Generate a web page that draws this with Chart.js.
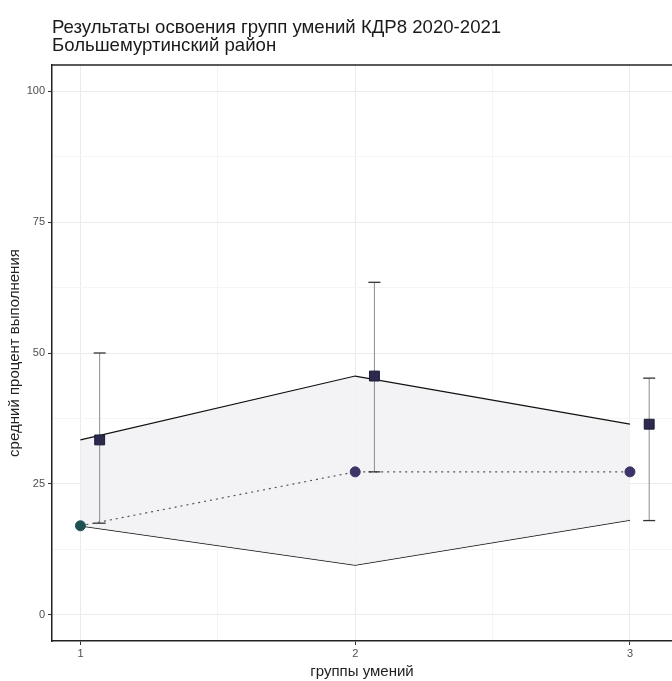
<!DOCTYPE html>
<html>
<head>
<meta charset="utf-8">
<script src="https://cdn.jsdelivr.net/npm/chart.js@4.4.1/dist/chart.umd.min.js"></script>
<style>
  html, body { margin: 0; padding: 0; background: #fff; overflow: hidden; }
  #wrap { width: 672px; height: 681px; position: relative; }
  canvas { display: block; }
</style>
</head>
<body>
<div id="wrap"><canvas id="chart"></canvas></div>
<script>
// chart data
const titleLines = ['Результаты освоения групп умений КДР8 2020-2021', 'Большемуртинский район'];
const groups = [1, 2, 3];
const circleVals = [17.0, 27.3, 27.3];
const squareVals = [33.4, 45.6, 36.4];
const errLow = [17.5, 27.3, 18.0];
const errHigh = [50.0, 63.5, 45.2];
const ribbonUpper = [33.4, 45.6, 36.4];
const ribbonLower = [17.0, 9.5, 18.1];
const yTicks = [0, 12.5, 25, 37.5, 50, 62.5, 75, 87.5, 100];
const xTicks = [1, 1.5, 2, 2.5, 3];
const circleColors = ['#1f5052', '#3d3568', '#3d3568'];

// squares and error bars are dodged a bit to the right
const dodge = 0.07;

const pts = (xs, ys) => xs.map((x, i) => ({ x: x, y: ys[i] }));

// one dataset per error bar: a grey line with short caps at both ends
const errorSets = groups.map((g, i) => ({
  type: 'line',
  data: [{ x: g + dodge, y: errLow[i] }, { x: g + dodge, y: errHigh[i] }],
  borderColor: '#8c8c8c',
  borderWidth: 1,
  pointStyle: 'line',
  pointRadius: 6,
  pointBorderColor: '#333',
  pointBorderWidth: 1.3,
  fill: false,
  order: 3
}));

// title and top frame line
const framePlugin = {
  id: 'frame',
  afterDraw(chart) {
    const ctx = chart.ctx;
    const a = chart.chartArea;
    ctx.save();
    ctx.strokeStyle = '#222';
    ctx.lineWidth = 1.5;
    ctx.beginPath();
    ctx.moveTo(a.left, a.top);
    ctx.lineTo(a.right, a.top);
    ctx.stroke();
    ctx.fillStyle = '#1a1a1a';
    ctx.font = '18.6px "Liberation Sans", Arial, sans-serif';
    ctx.textBaseline = 'alphabetic';
    ctx.fillText(titleLines[0], a.left, 32.5);
    ctx.fillText(titleLines[1], a.left, 50.5);
    ctx.restore();
  }
};

const minor = v => Math.abs(v % 1) > 0.01 && Math.abs((v / 25) % 1) > 0.01;

new Chart(document.getElementById('chart'), {
  type: 'scatter',
  data: {
    datasets: [
      {
        // ribbon upper edge, filled down to the lower edge
        type: 'line',
        data: pts(groups, ribbonUpper),
        borderColor: '#111',
        borderWidth: 1.2,
        backgroundColor: 'rgba(242, 242, 245, 0.9)',
        pointRadius: 0,
        fill: '+1',
        order: 5
      },
      {
        type: 'line',
        data: pts(groups, ribbonLower),
        borderColor: '#111',
        borderWidth: 1.2,
        pointRadius: 0,
        fill: false,
        order: 5
      },
      {
        // dotted line through the circles
        type: 'line',
        data: pts(groups, circleVals),
        borderColor: '#555',
        borderWidth: 1.2,
        borderDash: [2, 4],
        pointRadius: 0,
        fill: false,
        order: 4
      },
      ...errorSets,
      {
        data: pts(groups, circleVals),
        pointStyle: 'circle',
        pointRadius: 5,
        backgroundColor: circleColors,
        borderColor: circleColors,
        order: 1
      },
      {
        data: pts(groups.map(g => g + dodge), squareVals),
        pointStyle: 'rect',
        pointRadius: 7,
        backgroundColor: '#2c2a4e',
        borderColor: '#1c1a36',
        borderWidth: 1,
        order: 1
      }
    ]
  },
  options: {
    responsive: true,
    maintainAspectRatio: false,
    animation: false,
    layout: { autoPadding: false, padding: { top: 65, left: 0, right: 0, bottom: 0 } },
    plugins: {
      legend: { display: false },
      tooltip: { enabled: false }
    },
    scales: {
      x: {
        type: 'linear',
        min: 0.8965,
        max: 3.153,
        afterBuildTicks: s => { s.ticks = xTicks.map(v => ({ value: v })); },
        afterFit: s => { s.height = 40; s.paddingLeft = 0; s.paddingRight = 0; },
        ticks: {
          autoSkip: false,
          maxRotation: 0,
          padding: 2,
          color: '#4d4d4d',
          font: { family: '"Liberation Sans", Arial', size: 11 },
          callback: v => (Number.isInteger(v) ? String(v) : '')
        },
        grid: {
          color: c => (minor(c.tick.value) ? '#f5f5f5' : '#ebebeb'),
          tickColor: c => (minor(c.tick.value) ? 'rgba(0,0,0,0)' : '#333'),
          tickLength: 4,
          lineWidth: 1
        },
        border: { color: '#222', width: 1.5 },
        title: {
          display: true,
          text: 'группы умений',
          color: '#222',
          font: { family: '"Liberation Sans", Arial', size: 15 },
          padding: { top: 0, bottom: 0 }
        }
      },
      y: {
        min: -5,
        max: 105,
        afterBuildTicks: s => { s.ticks = yTicks.map(v => ({ value: v })); },
        afterFit: s => { s.width = 52; },
        ticks: {
          autoSkip: false,
          padding: 3,
          color: '#4d4d4d',
          font: { family: '"Liberation Sans", Arial', size: 11 },
          callback: v => (v % 25 === 0 ? String(v) : '')
        },
        grid: {
          color: c => (minor(c.tick.value) ? '#f5f5f5' : '#ebebeb'),
          tickColor: c => (minor(c.tick.value) ? 'rgba(0,0,0,0)' : '#333'),
          tickLength: 4,
          lineWidth: 1
        },
        border: { color: '#222', width: 1.5 },
        title: {
          display: true,
          text: 'средний процент выполнения',
          color: '#222',
          font: { family: '"Liberation Sans", Arial', size: 15 },
          padding: { top: 6, bottom: 0 }
        }
      }
    }
  },
  plugins: [framePlugin]
});
</script>
</body>
</html>
